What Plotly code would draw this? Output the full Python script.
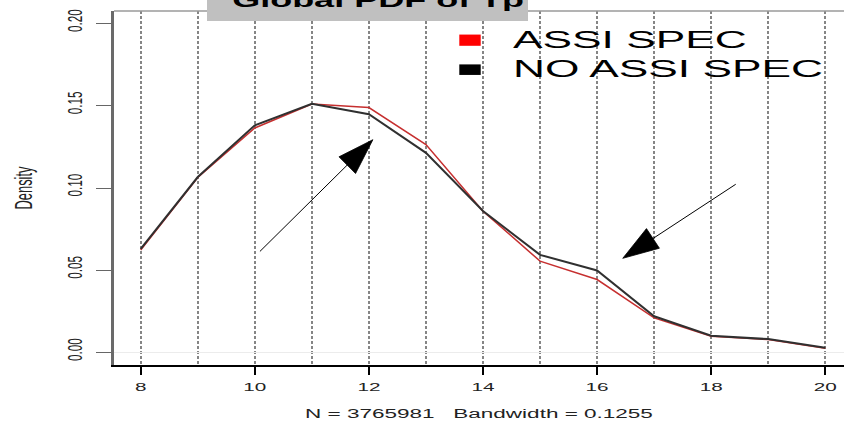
import plotly.graph_objects as go

# Density estimates evaluated at each integer value of Tp
dens_x = [8, 9, 10, 11, 12, 13, 14, 15, 16, 17, 18, 19, 20]
assi_spec = [0.0625, 0.1065, 0.1366, 0.1512, 0.1490, 0.1265, 0.0860,
             0.0557, 0.0445, 0.0212, 0.0100, 0.0080, 0.0028]
no_assi_spec = [0.0631, 0.1068, 0.1382, 0.1513, 0.1450, 0.1215, 0.0862,
                0.0595, 0.0500, 0.0222, 0.0103, 0.0083, 0.0030]

series_names = ["ASSI SPEC", "NO ASSI SPEC"]
series_colors = ["#ff0000", "#000000"]

# Pointer arrows (tail -> tip) in data units
arrow_a_x = [10.09, 12.07]
arrow_a_y = [0.0616, 0.1295]
arrow_b_x = [18.43, 16.45]
arrow_b_y = [0.1024, 0.0574]

x_ticks = [8, 10, 12, 14, 16, 18, 20]
y_ticks = [0.00, 0.05, 0.10, 0.15, 0.20]

title_text = "Global PDF of Tp"
x_title = "N = 3765981\u00a0\u00a0\u00a0Bandwidth = 0.1255"
y_title = "Density"

# ---- page geometry -------------------------------------------------------
W, H = 844, 424
ML, MR, MT, MB = 114, 0, 9, 59
PW, PH = W - ML - MR, H - MT - MB


def px_x(px):
    return (px - ML) / PW


def px_y(py):
    return (H - MB - py) / PH


FONT = "Liberation Sans, Arial, sans-serif"

fig = go.Figure()

fig.add_trace(go.Scatter(
    x=dens_x, y=assi_spec, mode="lines", name=series_names[0],
    line=dict(color="#c62f2f", width=1.5), showlegend=False))
fig.add_trace(go.Scatter(
    x=dens_x, y=no_assi_spec, mode="lines", name=series_names[1],
    line=dict(color="#303030", width=2), showlegend=False))

for ax, ay in ((arrow_a_x, arrow_a_y), (arrow_b_x, arrow_b_y)):
    fig.add_trace(go.Scatter(
        x=ax, y=ay, mode="lines+markers", showlegend=False, hoverinfo="skip",
        line=dict(color="black", width=1),
        marker=dict(symbol="arrow", size=[0, 38], angleref="previous",
                    color="black", opacity=1,
                    line=dict(width=0.8, color="black"))))

grid_style = dict(showgrid=True, gridcolor="#858585", gridwidth=1.5,
                  griddash="3px,2px")

fig.update_layout(
    width=W, height=H,
    margin=dict(l=ML, r=MR, t=MT, b=MB, pad=0),
    paper_bgcolor="white", plot_bgcolor="white",
    font=dict(family=FONT, color="#222"),
    showlegend=False,
    xaxis=dict(
        range=[7.532, 20.328], tickvals=x_ticks, ticks="outside",
        ticklen=8, tickwidth=1.5, tickcolor="black",
        showline=True, linecolor="black", linewidth=1.5,
        zeroline=False, tickfont=dict(size=11.5, color="#222"),
        ticklabelstandoff=2,
        minor=dict(dtick=1, tick0=8, ticks="", **grid_style),
        title=dict(text=x_title, font=dict(size=12.5, color="#222"), standoff=18),
        **grid_style),
    yaxis=dict(
        range=[-0.00743, 0.2077], tickvals=y_ticks, tickformat=".2f",
        tickangle=-90, ticks="outside", ticklen=15, tickwidth=1.3,
        tickcolor="#666", showline=True, linecolor="#6a6a6a", linewidth=3,
        showgrid=False, zeroline=True, zerolinecolor="#ececec", zerolinewidth=1,
        tickfont=dict(size=21, color="#222"), ticklabelstandoff=6,
        ticklabeloverflow="allow",
        title=dict(text=y_title, font=dict(size=23, color="#222"), standoff=24)),
)

# frame top edge and the grey banner behind the title
fig.add_shape(type="line", xref="paper", yref="paper", x0=0, x1=1, y0=1, y1=1,
              line=dict(color="#9a9a9a", width=1.5), layer="above")
fig.add_shape(type="rect", xref="paper", yref="paper",
              x0=px_x(207), x1=px_x(528), y0=px_y(19), y1=px_y(-2),
              fillcolor="#c0c0c0", line=dict(width=0), layer="above")
fig.add_annotation(text=title_text, xref="paper", yref="paper",
                   x=px_x(378), y=px_y(11.2), xanchor="center", yanchor="bottom",
                   showarrow=False,
                   font=dict(family=FONT, size=20, weight="bold", color="black"))

# legend keys and labels
key_rows = [(32.7, 44.0, 53.0), (62.7, 73.3, 82.6)]
for name, color, (k0, k1, base) in zip(series_names, series_colors, key_rows):
    fig.add_shape(type="rect", xref="paper", yref="paper",
                  x0=px_x(459.3), x1=px_x(480.7), y0=px_y(k1), y1=px_y(k0),
                  fillcolor=color, line=dict(width=0), layer="above")
    fig.add_annotation(text=name, xref="paper", yref="paper",
                       x=px_x(511), y=px_y(base), xanchor="left", yanchor="bottom",
                       align="left", showarrow=False,
                       font=dict(family=FONT, size=24.6, color="black"))

# widen horizontal labels / narrow the rotated ones
STRETCH_JS = """
var gd = document.querySelector('.js-plotly-plot');
function stretch(sel, k) {
  gd.querySelectorAll(sel).forEach(function (t) {
    var w = t.getComputedTextLength();
    if (w > 0) {
      t.setAttribute('lengthAdjust', 'spacingAndGlyphs');
      t.setAttribute('textLength', (w * k).toFixed(2));
    }
  });
}
stretch('.xtick text', 1.8);
stretch('.g-xtitle text', 1.8);
stretch('.annotation-text', 1.8);
stretch('.ytick text', 0.56);
stretch('.g-ytitle text', 0.56);
"""

fig.write_html("out.html", post_script=STRETCH_JS)
